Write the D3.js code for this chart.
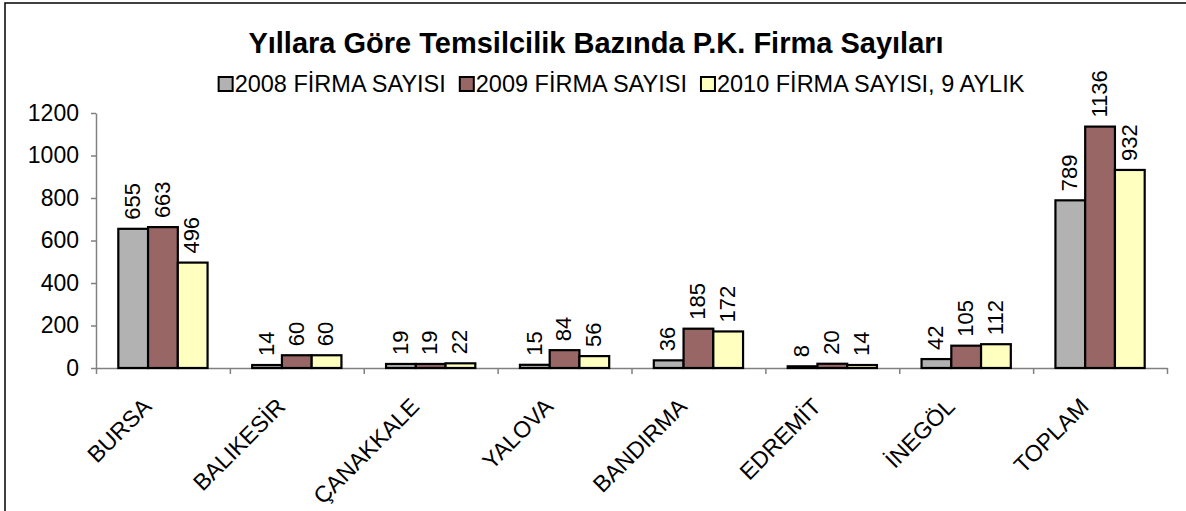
<!DOCTYPE html>
<html>
<head>
<meta charset="utf-8">
<script src="https://cdn.jsdelivr.net/npm/d3@7"></script>
<style>
  body { margin: 0; background: #fff; }
  svg text { font-family: "Liberation Sans", Arial, sans-serif; fill: #000; }
</style>
</head>
<body>
<div id="chart"></div>
<script>
"use strict";

let width = 1186;
let height = 511;

/* Data */
let categories = ["BURSA", "BALIKESİR", "ÇANAKKALE", "YALOVA", "BANDIRMA", "EDREMİT", "İNEGÖL", "TOPLAM"];
let seriesNames = ["2008 FİRMA SAYISI", "2009 FİRMA SAYISI", "2010 FİRMA SAYISI, 9 AYLIK"];
let firms2008 = [655, 14, 19, 15, 36, 8, 42, 789];
let firms2009 = [663, 60, 19, 84, 185, 20, 105, 1136];
let firms2010 = [496, 60, 22, 56, 172, 14, 112, 932];
let yTicks = [0, 200, 400, 600, 800, 1000, 1200];
let colors = ["#b2b2b2", "#996666", "#ffffc0"];

let seriesValues = [firms2008, firms2009, firms2010];

let plotLeft = 96;
let plotRight = 1167;
let plotTop = 113;
let plotBottom = 368;

let svg = d3.select("#chart")
  .append("svg")
  .attr("width", width)
  .attr("height", height);

/* Outer frame */
svg.append("rect")
  .attr("x", 5)
  .attr("y", 3)
  .attr("width", 1300)
  .attr("height", 700)
  .attr("fill", "none")
  .attr("stroke", "#000")
  .attr("stroke-width", 1.5);

/* Scales */
let xScale = d3.scaleBand()
  .domain(categories)
  .range([plotLeft, plotRight])
  .paddingInner(0)
  .paddingOuter(0);

let xSub = d3.scaleBand()
  .domain(d3.range(seriesNames.length))
  .range([0, xScale.bandwidth()])
  .paddingInner(0)
  .paddingOuter(0.75);

let yScale = d3.scaleLinear()
  .domain([0, 1200])
  .range([plotBottom, plotTop]);

/* Title */
svg.append("text")
  .attr("x", 596)
  .attr("y", 53)
  .attr("text-anchor", "middle")
  .attr("font-size", "29px")
  .attr("font-weight", "bold")
  .text("Yıllara Göre Temsilcilik Bazında P.K. Firma Sayıları");

/* Y axis */
let yAxis = svg.append("g")
  .attr("transform", `translate(${plotLeft},0)`)
  .call(d3.axisLeft(yScale).tickValues(yTicks).tickSize(5).tickSizeOuter(0).tickPadding(12).tickFormat(d3.format("d")));

yAxis.select(".domain").attr("stroke", "#808080").attr("stroke-width", 1.5);
yAxis.selectAll(".tick line").attr("stroke", "#808080").attr("stroke-width", 1.5);
yAxis.selectAll(".tick text")
  .attr("font-size", "23px")
  .attr("font-family", "Liberation Sans, Arial, sans-serif")
  .attr("fill", "#000");

/* X axis (category boundaries) */
let xEdge = d3.scaleLinear()
  .domain([0, categories.length])
  .range([plotLeft, plotRight]);

let xAxis = svg.append("g")
  .attr("transform", `translate(0,${plotBottom})`)
  .call(d3.axisBottom(xEdge).tickValues(d3.range(categories.length + 1)).tickSize(6).tickSizeOuter(0).tickFormat(""));

xAxis.select(".domain").attr("stroke", "#808080").attr("stroke-width", 1.5);
xAxis.selectAll(".tick line").attr("stroke", "#808080").attr("stroke-width", 1.5);

/* Bars */
seriesValues.forEach((vals, s) => {
  let g = svg.append("g");

  g.selectAll("rect")
    .data(vals)
    .enter()
    .append("rect")
    .attr("x", (d, i) => xScale(categories[i]) + xSub(s))
    .attr("y", d => yScale(d))
    .attr("width", xSub.bandwidth())
    .attr("height", d => plotBottom - yScale(d))
    .attr("fill", colors[s])
    .attr("stroke", "#000")
    .attr("stroke-width", 2.2);

  g.selectAll("text")
    .data(vals)
    .enter()
    .append("text")
    .attr("transform", (d, i) => {
      let cx = xScale(categories[i]) + xSub(s) + xSub.bandwidth() / 2;
      return `translate(${cx - 1},${yScale(d) - 9}) rotate(-90)`;
    })
    .attr("dy", "0.35em")
    .attr("text-anchor", "start")
    .attr("font-size", "22px")
    .text(d => d);
});

/* Category labels */
svg.selectAll(".cat-label")
  .data(categories)
  .enter()
  .append("text")
  .attr("class", "cat-label")
  .attr("transform", d => {
    let cx = xScale(d) + xScale.bandwidth() / 2;
    return `translate(${cx - 10},${plotBottom + 40}) rotate(-45)`;
  })
  .attr("text-anchor", "end")
  .attr("font-size", "23px")
  .text(d => d);

/* Legend */
let legend = svg.append("g");
let cursor = 0;

seriesNames.forEach((name, s) => {
  let item = legend.append("g");
  item.append("rect")
    .attr("x", 1)
    .attr("y", -15)
    .attr("width", 14)
    .attr("height", 14)
    .attr("fill", colors[s])
    .attr("stroke", "#000")
    .attr("stroke-width", 2);
  let t = item.append("text")
    .attr("x", 17)
    .attr("y", 0)
    .attr("font-size", "23.5px")
    .text(name);
  let w = 17 + t.node().getComputedTextLength();
  item.attr("transform", `translate(${cursor},0)`);
  cursor += w + 13;
});

let legendWidth = cursor - 13;
legend.attr("transform", `translate(${621 - legendWidth / 2},92)`);
</script>
</body>
</html>
